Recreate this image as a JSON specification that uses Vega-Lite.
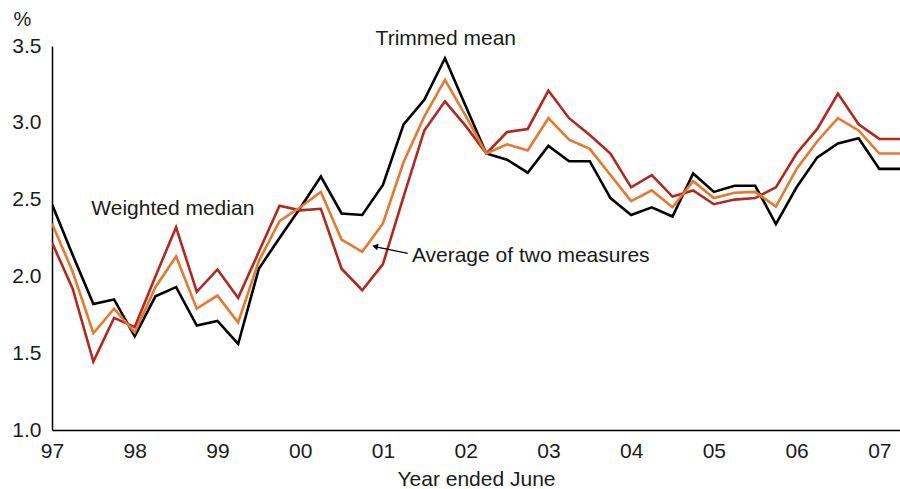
{
  "$schema": "https://vega.github.io/schema/vega-lite/v6.json",
  "width": 848,
  "height": 384,
  "autosize": {"type": "none"},
  "padding": {"left": 52, "top": 46, "right": 0, "bottom": 59},
  "background": "white",
  "config": {
    "view": {"stroke": null},
    "font": "Liberation Sans",
    "text": {"font": "Liberation Sans"}
  },
  "layer": [
    {
      "data": {
        "values": [
          {"t": 1997.00, "tm": 2.47, "wm": 2.22, "avg": 2.345},
          {"t": 1997.25, "tm": 2.14, "wm": 1.92, "avg": 2.03},
          {"t": 1997.50, "tm": 1.82, "wm": 1.445, "avg": 1.63},
          {"t": 1997.75, "tm": 1.85, "wm": 1.73, "avg": 1.79},
          {"t": 1998.00, "tm": 1.61, "wm": 1.67, "avg": 1.635},
          {"t": 1998.25, "tm": 1.87, "wm": 2.00, "avg": 1.93},
          {"t": 1998.50, "tm": 1.93, "wm": 2.32, "avg": 2.13},
          {"t": 1998.75, "tm": 1.68, "wm": 1.90, "avg": 1.79},
          {"t": 1999.00, "tm": 1.71, "wm": 2.045, "avg": 1.875},
          {"t": 1999.25, "tm": 1.56, "wm": 1.86, "avg": 1.70},
          {"t": 1999.50, "tm": 2.05, "wm": 2.16, "avg": 2.10},
          {"t": 1999.75, "tm": 2.25, "wm": 2.46, "avg": 2.36},
          {"t": 2000.00, "tm": 2.445, "wm": 2.43, "avg": 2.45},
          {"t": 2000.25, "tm": 2.65, "wm": 2.44, "avg": 2.55},
          {"t": 2000.50, "tm": 2.41, "wm": 2.05, "avg": 2.24},
          {"t": 2000.75, "tm": 2.40, "wm": 1.91, "avg": 2.16},
          {"t": 2001.00, "tm": 2.595, "wm": 2.08, "avg": 2.345},
          {"t": 2001.25, "tm": 2.99, "wm": 2.52, "avg": 2.745},
          {"t": 2001.50, "tm": 3.15, "wm": 2.95, "avg": 3.04},
          {"t": 2001.75, "tm": 3.42, "wm": 3.14, "avg": 3.28},
          {"t": 2002.00, "tm": 3.11, "wm": 2.98, "avg": 3.045},
          {"t": 2002.25, "tm": 2.80, "wm": 2.80, "avg": 2.80},
          {"t": 2002.50, "tm": 2.76, "wm": 2.94, "avg": 2.86},
          {"t": 2002.75, "tm": 2.675, "wm": 2.96, "avg": 2.82},
          {"t": 2003.00, "tm": 2.85, "wm": 3.21, "avg": 3.03},
          {"t": 2003.25, "tm": 2.75, "wm": 3.03, "avg": 2.89},
          {"t": 2003.50, "tm": 2.75, "wm": 2.92, "avg": 2.83},
          {"t": 2003.75, "tm": 2.51, "wm": 2.80, "avg": 2.66},
          {"t": 2004.00, "tm": 2.40, "wm": 2.58, "avg": 2.49},
          {"t": 2004.25, "tm": 2.45, "wm": 2.66, "avg": 2.56},
          {"t": 2004.50, "tm": 2.39, "wm": 2.52, "avg": 2.45},
          {"t": 2004.75, "tm": 2.67, "wm": 2.56, "avg": 2.62},
          {"t": 2005.00, "tm": 2.55, "wm": 2.47, "avg": 2.51},
          {"t": 2005.25, "tm": 2.59, "wm": 2.50, "avg": 2.545},
          {"t": 2005.50, "tm": 2.59, "wm": 2.51, "avg": 2.55},
          {"t": 2005.75, "tm": 2.34, "wm": 2.58, "avg": 2.455},
          {"t": 2006.00, "tm": 2.58, "wm": 2.80, "avg": 2.70},
          {"t": 2006.25, "tm": 2.775, "wm": 2.96, "avg": 2.88},
          {"t": 2006.50, "tm": 2.865, "wm": 3.19, "avg": 3.03},
          {"t": 2006.75, "tm": 2.90, "wm": 2.99, "avg": 2.95},
          {"t": 2007.00, "tm": 2.70, "wm": 2.895, "avg": 2.80},
          {"t": 2007.25, "tm": 2.70, "wm": 2.895, "avg": 2.80}
        ]
      },
      "transform": [
        {"fold": ["tm", "wm", "avg"], "as": ["series", "value"]}
      ],
      "mark": {"type": "line", "strokeWidth": 2.6, "strokeJoin": "miter", "clip": true},
      "encoding": {
        "x": {
          "field": "t",
          "type": "quantitative",
          "scale": {"domain": [1997, 2007.25], "nice": false, "zero": false},
          "axis": {
            "values": [1997, 1998, 1999, 2000, 2001, 2002, 2003, 2004, 2005, 2006, 2007],
            "labelExpr": "slice(toString(datum.value), 2)",
            "ticks": false,
            "grid": false,
            "domainColor": "#000000",
            "domainWidth": 1.5,
            "labelFontSize": 21,
            "labelColor": "#1a1a1a",
            "labelPadding": 10,
            "labelFont": "Liberation Sans",
            "labelFlush": false,
            "title": "Year ended June",
            "titleFontSize": 21,
            "titleFontWeight": "normal",
            "titleColor": "#1a1a1a",
            "titleFont": "Liberation Sans",
            "titlePadding": 7
          }
        },
        "y": {
          "field": "value",
          "type": "quantitative",
          "scale": {"domain": [1, 3.5], "nice": false, "zero": false},
          "axis": {
            "values": [1, 1.5, 2, 2.5, 3, 3.5],
            "format": ".1f",
            "ticks": false,
            "grid": false,
            "domainColor": "#000000",
            "domainWidth": 1.5,
            "labelFontSize": 21,
            "labelColor": "#1a1a1a",
            "labelPadding": 11,
            "labelFont": "Liberation Sans",
            "labelFlush": false,
            "title": "%",
            "titleAngle": 0,
            "titleFontSize": 20,
            "titleFontWeight": "normal",
            "titleColor": "#1a1a1a",
            "titleFont": "Liberation Sans",
            "titleAlign": "center",
            "titleBaseline": "middle",
            "titleX": -30,
            "titleY": -27
          }
        },
        "color": {
          "field": "series",
          "type": "nominal",
          "scale": {"domain": ["tm", "wm", "avg"], "range": ["#000000", "#b5261e", "#e8782a"]},
          "legend": null
        },
        "order": {"field": "series"}
      }
    },
    {
      "data": {"values": [{"label": "Trimmed mean"}]},
      "mark": {"type": "text", "fontSize": 21, "align": "center", "baseline": "middle", "color": "#1a1a1a"},
      "encoding": {
        "x": {"datum": 2001.76},
        "y": {"datum": 3.545},
        "text": {"field": "label"}
      }
    },
    {
      "data": {"values": [{"label": "Weighted median"}]},
      "mark": {"type": "text", "fontSize": 21, "align": "center", "baseline": "middle", "color": "#1a1a1a"},
      "encoding": {
        "x": {"datum": 1998.46},
        "y": {"datum": 2.44},
        "text": {"field": "label"}
      }
    },
    {
      "data": {"values": [{"label": "Average of two measures"}]},
      "mark": {"type": "text", "fontSize": 21, "align": "left", "baseline": "middle", "color": "#1a1a1a"},
      "encoding": {
        "x": {"datum": 2001.35},
        "y": {"datum": 2.13},
        "text": {"field": "label"}
      }
    },
    {
      "data": {"values": [{}]},
      "mark": {"type": "rule", "color": "#000000", "strokeWidth": 1.3},
      "encoding": {
        "x": {"datum": 2001.30},
        "y": {"datum": 2.15},
        "x2": {"datum": 2000.93},
        "y2": {"datum": 2.19}
      }
    },
    {
      "data": {"values": [{}]},
      "mark": {"type": "point", "shape": "triangle-left", "filled": true, "color": "#000000", "size": 45, "angle": 12, "opacity": 1},
      "encoding": {
        "x": {"datum": 2000.905},
        "y": {"datum": 2.195}
      }
    }
  ]
}
